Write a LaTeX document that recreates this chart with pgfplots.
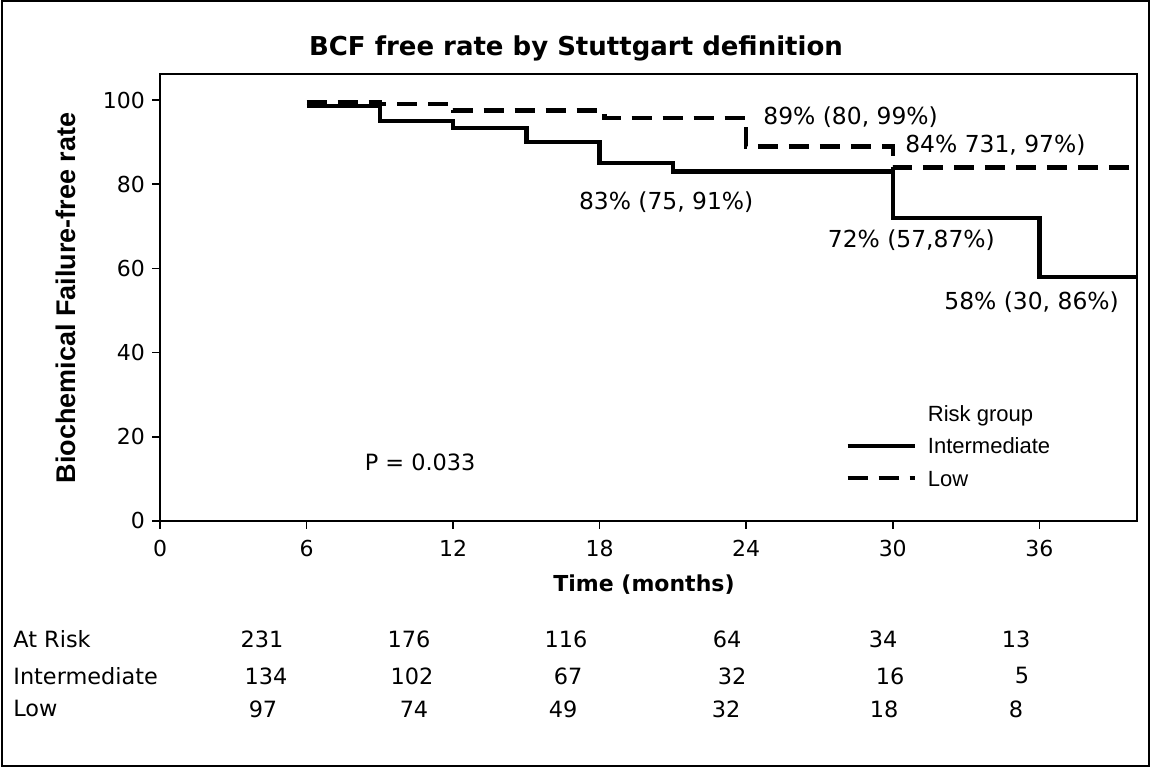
\documentclass[border=0pt]{standalone}
\usepackage{pgfplots}
\pgfplotsset{compat=1.18}
\usepackage{fontspec}
\setmainfont{DejaVu Sans}
\newfontfamily\arialfont{Liberation Sans}

\begin{document}
\begin{tikzpicture}
\useasboundingbox (0,0) rectangle (575.5pt,384.5pt);
\draw[line width=1pt] (1pt,1.5pt) rectangle (574.25pt,384pt);
\node[anchor=base, inner sep=0pt, font=\bfseries\fontsize{13}{15}\selectfont] at (288pt,356.5pt) {BCF free rate by Stuttgart definition};

\begin{axis}[
  at={(80pt,124pt)}, anchor=south west,
  scale only axis, width=488.5pt, height=223.5pt,
  xmin=0, xmax=40, ymin=0, ymax=106.2,
  xtick={0,6,12,18,24,30,36}, ytick={0,20,40,60,80,100},
  tick pos=left, tick align=outside, major tick length=4pt,
  axis line style={line width=0.8pt},
  every tick/.style={black, line width=0.8pt},
  /pgf/number format/assume math mode=true,
  ticklabel style={font=\fontsize{11}{13}\selectfont},
  xticklabel style={yshift=-2pt},
  xlabel={Time (months)},
  xlabel style={font=\bfseries\fontsize{11}{13}\selectfont, at={(axis description cs:0.4954,-0.143)}, anchor=center},
  ylabel={Biochemical Failure-free rate},
  ylabel style={font=\arialfont\bfseries\fontsize{13.5}{15}\selectfont, at={(axis description cs:-0.0967,0.499)}, anchor=center},
  legend style={draw=none, fill=none, at={(axis cs:28.05,28.27)}, anchor=north west,
    inner xsep=0pt, inner ysep=0pt,
    font=\arialfont\fontsize{11}{13}\selectfont,
    nodes={inner sep=0pt, text height=9.5pt, text depth=1.6pt},
    row sep=5.1pt,
    /tikz/every odd column/.style={column sep=5.5pt}},
  legend cell align=left,
  legend image code/.code={\draw[#1] (0pt,0pt) -- (33.5pt,0pt);},
]
\addlegendimage{empty legend}
\addlegendentry{Risk group}

% Intermediate-risk group, Kaplan-Meier steps
\addplot[const plot, black, line width=2.2pt, line join=miter] coordinates {
  (6,98.6) (9,95.1) (12,93.3) (15,90.0) (18,85.0) (21,83) (30,72) (36,58) (40,58)
};
\addlegendentry{Intermediate}

% Low-risk group
\addplot[const plot, black, line width=2.2pt, line join=miter, dash pattern=on 10pt off 5.5pt] coordinates {
  (6,99.6) (9,99.0) (12,97.5) (18.2,95.8) (24,89) (30,84) (40,84)
};
\addlegendentry{Low}

\node[anchor=west, inner sep=0pt, font=\fontsize{11.7}{14}\selectfont] at (axis cs:24.69,96.0) {89\% (80, 99\%)};
\node[anchor=west, inner sep=0pt, font=\fontsize{11.7}{14}\selectfont] at (axis cs:30.5,89.3) {84\% 731, 97\%)};
\node[anchor=west, inner sep=0pt, font=\fontsize{11.7}{14}\selectfont] at (axis cs:17.14,75.8) {83\% (75, 91\%)};
\node[anchor=west, inner sep=0pt, font=\fontsize{11.7}{14}\selectfont] at (axis cs:27.33,66.7) {72\% (57,87\%)};
\node[anchor=west, inner sep=0pt, font=\fontsize{11.7}{14}\selectfont] at (axis cs:32.1,52.1) {58\% (30, 86\%)};
\node[anchor=west, inner sep=0pt, font=\fontsize{11.2}{13}\selectfont] at (axis cs:8.37,13.9) {P = 0.033};
\end{axis}

% number-at-risk table below the plot
\begin{scope}[every node/.style={inner sep=0pt, font=\fontsize{11.2}{13}\selectfont}]
\node[anchor=west] at (6.5pt,65pt) {At Risk};
\node[anchor=west] at (6.5pt,46.5pt) {Intermediate};
\node[anchor=west] at (6.5pt,30pt) {Low};
\foreach \x/\n in {131/231, 204.5/176, 283/116, 363.5/64, 441.5/34, 508/13}
  \node at (\x pt,65pt) {\n};
\foreach \x/\n in {133/134, 206/102, 284/67, 366/32, 445/16, 511/5}
  \node at (\x pt,46.5pt) {\n};
\foreach \x/\n in {131.5/97, 207/74, 281.5/49, 363/32, 442/18, 508/8}
  \node at (\x pt,30pt) {\n};
\end{scope}
\end{tikzpicture}
\end{document}
